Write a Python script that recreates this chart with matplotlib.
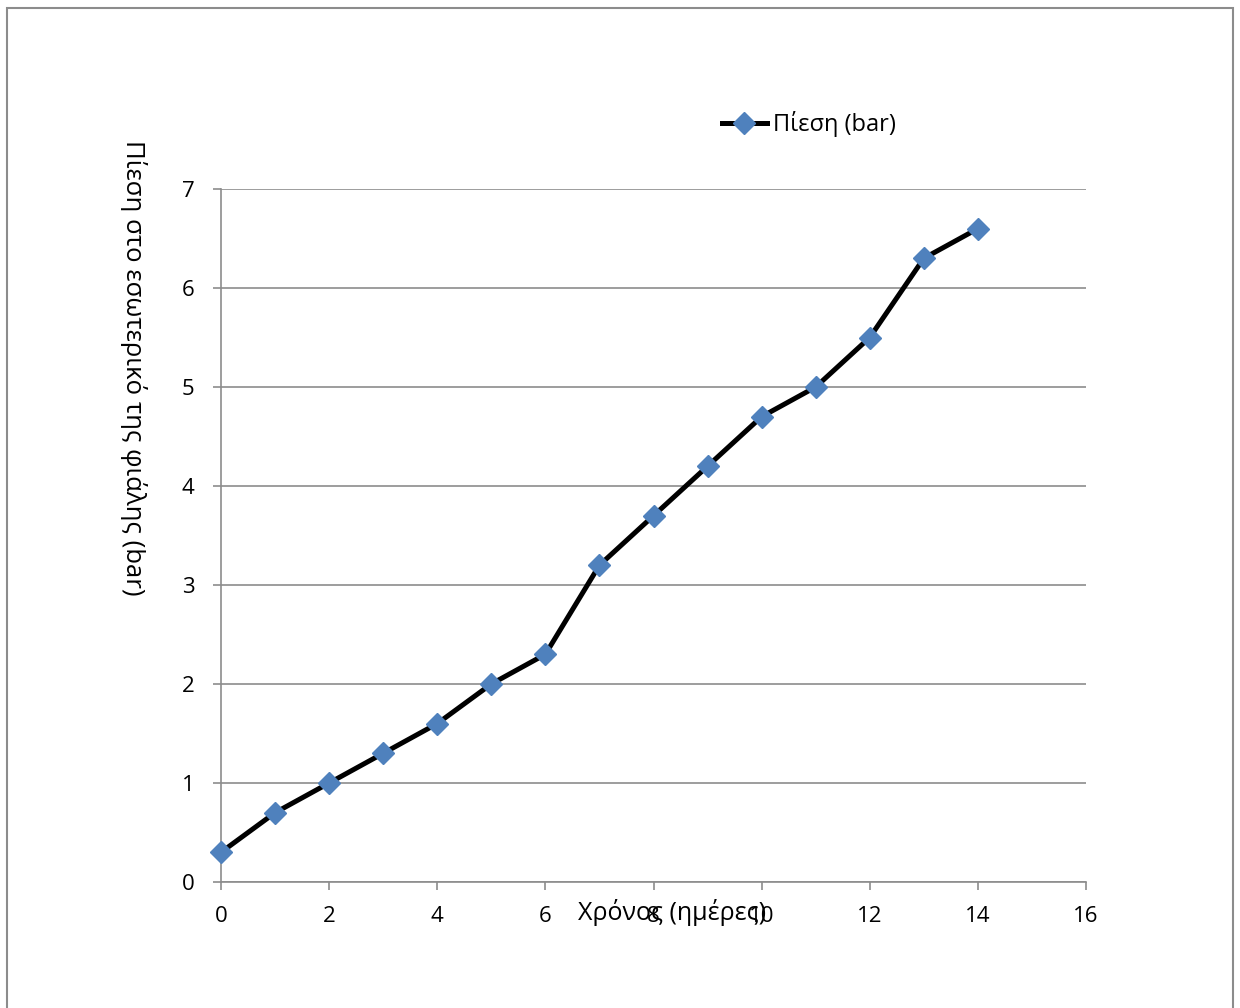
import matplotlib
matplotlib.use("Agg")
import matplotlib.pyplot as plt
from matplotlib.patches import Rectangle

plt.rcParams['font.family'] = ['Open Sans', 'DejaVu Sans']

days = [0, 1, 2, 3, 4, 5, 6, 7, 8, 9, 10, 11, 12, 13, 14]
pressure = [0.3, 0.7, 1.0, 1.3, 1.6, 2.0, 2.3, 3.2, 3.7, 4.2, 4.7, 5.0, 5.5, 6.3, 6.6]
x_ticks = [0, 2, 4, 6, 8, 10, 12, 14, 16]
y_ticks = [0, 1, 2, 3, 4, 5, 6, 7]
series_label = "Πίεση (bar)"
x_label = "Χρόνος (ημέρες)"
y_label = "Πίεση στο εσωτερικό της φιάλης (bar)"

fig = plt.figure(figsize=(12.4, 10.08), dpi=100)
fig.patches.append(Rectangle((7/1240, -0.05), (1233-7)/1240, 1.05 - 8/1008,
                             transform=fig.transFigure, fill=False,
                             edgecolor='#8c8c8c', linewidth=1.5))

ax = fig.add_axes([221/1240, 126/1008, (1086-221)/1240, (882-189)/1008])
line, = ax.plot(days, pressure, color='black', linewidth=3.6, marker='D',
                markersize=11.5, markerfacecolor='#4F81BD', markeredgecolor='#4F81BD',
                label=series_label, zorder=3, clip_on=False)

ax.set_xlim(0, 16)
ax.set_ylim(0, 7)
ax.set_xticks(x_ticks)
ax.set_yticks(y_ticks)
ax.yaxis.grid(True, color='#8c8c8c', linewidth=1.2)
ax.set_axisbelow(True)
for s in ['top', 'right']:
    ax.spines[s].set_visible(False)
for s in ['left', 'bottom']:
    ax.spines[s].set_color('#8c8c8c')
    ax.spines[s].set_linewidth(1.2)
ax.tick_params(axis='both', colors='#8c8c8c', labelcolor='black', labelsize=16,
               length=6, width=1.2)
ax.tick_params(axis='x', pad=11)
ax.tick_params(axis='y', pad=13)

fig.text(672/1240, 1 - 913/1008, x_label, ha='center', va='center', fontsize=18)
fig.text(133/1240, 1 - 368/1008, y_label, ha='center', va='center', fontsize=18.5,
         rotation=270)

fig.legend(handles=[line], loc='center left', bbox_to_anchor=(722/1240, 1 - 124/1008),
           frameon=False, fontsize=17, handlelength=1.9, handletextpad=0.25,
           borderaxespad=0, borderpad=0)

fig.savefig("out.png", dpi=100)
